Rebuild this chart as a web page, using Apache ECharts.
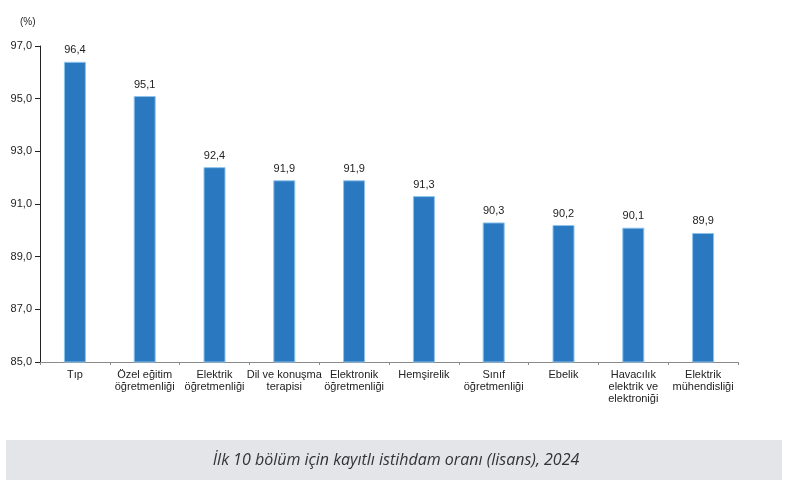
<!doctype html>
<html lang="tr">
<head>
    <meta charset="UTF-8">
    <title>İstihdam oranı</title>
    <script src="https://cdn.jsdelivr.net/npm/echarts@6/dist/echarts.min.js"></script>
    <style>
        html, body { margin: 0; padding: 0; background: #fff; }
    </style>
</head>
<body>
<div id="main" style="width: 799px;height:488px;"></div>
<script type="text/javascript">
    // bölümler ve oranlar
    var categories = ['Tıp', 'Özel eğitim\nöğretmenliği', 'Elektrik\nöğretmenliği', 'Dil ve konuşma\nterapisi',
        'Elektronik\nöğretmenliği', 'Hemşirelik', 'Sınıf\nöğretmenliği', 'Ebelik',
        'Havacılık\nelektrik ve\nelektroniği', 'Elektrik\nmühendisliği'];
    var values = [96.4, 95.1, 92.4, 91.9, 91.9, 91.3, 90.3, 90.2, 90.1, 89.9];
    var yMin = 85, yMax = 97, yStep = 2;
    var caption = 'İlk 10 bölüm için kayıtlı istihdam oranı (lisans), 2024';

    var FONT = '"Liberation Sans", Arial, sans-serif';

    function virgul(v) {
        return Number(v).toFixed(1).replace('.', ',');
    }

    var myChart = echarts.init(document.getElementById('main'));

    var option = {
        animation: false,
        backgroundColor: '#fff',
        textStyle: { fontFamily: FONT },
        grid: { left: 40, right: 61, top: 46, bottom: 126 },
        xAxis: {
            type: 'category',
            data: categories,
            axisLine: { lineStyle: { color: '#8a8a8a', width: 1 } },
            axisTick: { show: true, length: 3, lineStyle: { color: '#8a8a8a' } },
            axisLabel: {
                interval: 0, color: '#222', fontFamily: FONT, fontSize: 11, lineHeight: 12, margin: 7
            }
        },
        yAxis: {
            type: 'value',
            min: yMin, max: yMax, interval: yStep,
            splitLine: { show: false },
            axisLine: { show: true, lineStyle: { color: '#222' } },
            axisTick: { show: true, length: 5, lineStyle: { color: '#222' } },
            axisLabel: { color: '#222', fontFamily: FONT, fontSize: 11, margin: 8, formatter: virgul }
        },
        series: [{
            type: 'bar',
            data: values,
            barWidth: 22,
            itemStyle: { color: '#2a78bf', borderColor: '#8fc3ea', borderWidth: 1 },
            label: {
                show: true, position: 'top', distance: 6,
                color: '#222', fontFamily: FONT, fontSize: 11,
                formatter: function (p) { return virgul(p.value); }
            }
        }],
        graphic: [
            {
                type: 'text', left: 20, top: 17,
                style: { text: '(%)', fill: '#222', font: '10px ' + FONT }
            },
            {
                type: 'rect', shape: { x: 6, y: 440, width: 776, height: 40 },
                style: { fill: '#e4e5e9' }
            },
            {
                type: 'text', x: 396, y: 460,
                style: {
                    text: caption, fill: '#333', align: 'center', verticalAlign: 'middle',
                    font: 'italic 16px "Open Sans", sans-serif'
                }
            }
        ]
    };

    myChart.setOption(option);
</script>
</body>
</html>
